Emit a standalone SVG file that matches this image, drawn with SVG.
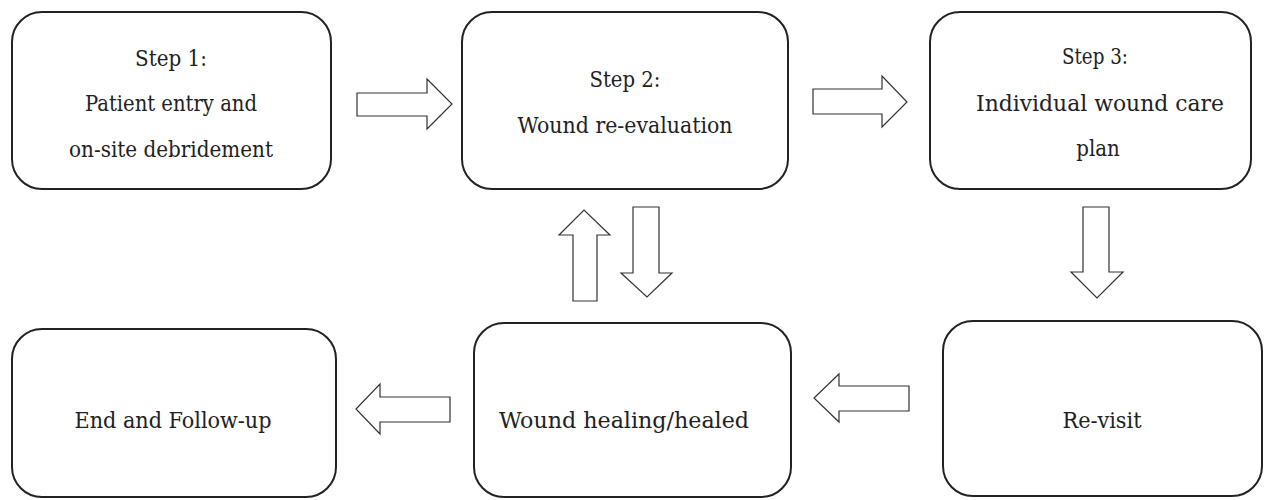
<svg xmlns="http://www.w3.org/2000/svg" width="1266" height="500" viewBox="0 0 1266 500">
<style>
.box{fill:#fff;stroke:#222;stroke-width:2}
.arr{fill:#fff;stroke:#333;stroke-width:1.2;stroke-linejoin:miter}
.t{font-family:'DejaVu Serif Condensed','DejaVu Serif',serif;font-stretch:condensed;font-size:22px;fill:#222;text-anchor:middle}
</style>
<rect width="1266" height="500" fill="#fff"/>
<g id="step1">
<rect class="box" x="12" y="12" width="319" height="177" rx="30"/>
<text class="t" x="171" y="66" textLength="72" lengthAdjust="spacingAndGlyphs">Step 1:</text>
<text class="t" x="171" y="111" textLength="172" lengthAdjust="spacingAndGlyphs">Patient entry and</text>
<text class="t" x="171" y="157" textLength="204" lengthAdjust="spacingAndGlyphs">on-site debridement</text>
</g>
<g id="step2">
<rect class="box" x="462" y="12" width="326" height="177" rx="30"/>
<text class="t" x="625" y="87" textLength="71" lengthAdjust="spacingAndGlyphs">Step 2:</text>
<text class="t" x="625" y="133" textLength="215" lengthAdjust="spacingAndGlyphs">Wound re-evaluation</text>
</g>
<g id="step3">
<rect class="box" x="930" y="12" width="321" height="177" rx="30"/>
<text class="t" x="1095" y="64" textLength="66" lengthAdjust="spacingAndGlyphs">Step 3:</text>
<text class="t" x="1100" y="111" textLength="248" lengthAdjust="spacingAndGlyphs">Individual wound care</text>
<text class="t" x="1098" y="156">plan</text>
</g>
<g id="end">
<rect class="box" x="12" y="329" width="324" height="168" rx="30"/>
<text class="t" x="173" y="428" textLength="197" lengthAdjust="spacingAndGlyphs">End and Follow-up</text>
</g>
<g id="healing">
<rect class="box" x="474" y="323" width="317" height="174" rx="30"/>
<text class="t" x="624" y="428" textLength="250" lengthAdjust="spacingAndGlyphs">Wound healing/healed</text>
</g>
<g id="revisit">
<rect class="box" x="943" y="321" width="319" height="175" rx="30"/>
<text class="t" x="1102" y="428" textLength="79" lengthAdjust="spacingAndGlyphs">Re-visit</text>
</g>
<g id="connectors">
<polygon class="arr" points="357,93 427,93 427,79 452,104 427,129 427,116 357,116"/>
<polygon class="arr" points="813,89 882,89 882,76 907,102 882,127 882,114 813,114"/>
<polygon class="arr" points="1083,207 1109,207 1109,272 1123,272 1097,298 1071,272 1083,272"/>
<polygon class="arr" points="633,207 659,207 659,273 672,273 647,297 621,273 633,273"/>
<polygon class="arr" points="573,301 597,301 597,235 610,235 584,210 559,235 573,235"/>
<polygon class="arr" points="909,386 909,411 839,411 839,422 814,398 839,374 839,386"/>
<polygon class="arr" points="450,397 450,422 380,422 380,434 356,409 380,384 380,397"/>
</g>
</svg>
